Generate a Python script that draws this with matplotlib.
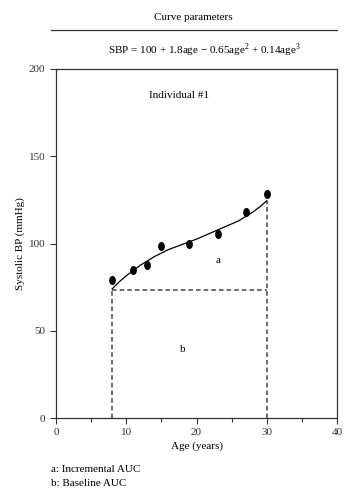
import matplotlib.pyplot as plt
from matplotlib.path import Path
from matplotlib.transforms import Affine2D
from matplotlib.ticker import MultipleLocator

plt.rcParams['font.family'] = ['Liberation Serif', 'DejaVu Serif']
plt.rcParams['mathtext.fontset'] = 'custom'
plt.rcParams['mathtext.rm'] = 'Liberation Serif'

# measured points (age, systolic BP)
age_pts = [8, 11, 13, 15, 19, 23, 27, 30]
sbp_pts = [79, 85, 87.5, 98.5, 100, 105.5, 118, 128.5]

# fitted curve
age_fit = [8, 9, 10, 11, 12, 13, 14, 15, 16, 18, 20, 22, 24, 26, 28, 29, 30]
sbp_fit = [74, 78, 81.5, 84.5, 87.5, 90, 92.5, 94.5, 96.5, 99.5, 102.5, 106, 109.5, 113, 118, 121, 124.5]

baseline = 73.5
x_ticks = [0, 10, 20, 30, 40]
y_ticks = [0, 50, 100, 150, 200]

fig = plt.figure(figsize=(3.56, 5.0), dpi=100)
ax = fig.add_axes([0.157, 0.164, 0.790, 0.698])

# dashed AUC boundaries
dash = dict(ls='--', color='#444444', lw=1.1, dashes=(3, 2))
ax.plot([age_fit[0], age_fit[-1]], [baseline, baseline], **dash)
ax.plot([age_fit[0], age_fit[0]], [0, baseline], **dash)
ax.plot([age_fit[-1], age_fit[-1]], [0, sbp_fit[-1]], **dash)

ax.plot(age_fit, sbp_fit, color='black', lw=0.9)

ellipse = Path.unit_circle().transformed(Affine2D().scale(0.7, 1.0))
ax.plot(age_pts, sbp_pts, ls='none', marker=ellipse, ms=5.5, color='black')

ax.text(17.5, 185, 'Individual #1', ha='center', va='center', fontsize=8)
ax.text(23, 90, 'a', ha='center', va='center', fontsize=8)
ax.text(18, 39.5, 'b', ha='center', va='center', fontsize=8)

ax.set_xlim(0, 40)
ax.set_ylim(0, 200)
ax.set_xticks(x_ticks)
ax.set_yticks(y_ticks)
ax.xaxis.set_minor_locator(MultipleLocator(5))
ax.tick_params(direction='out', length=4, width=0.8, labelsize=8, colors='#333333')
ax.tick_params(which='minor', direction='out', length=3, width=0.8, color='#333333')
ax.set_xlabel('Age (years)', fontsize=8, labelpad=3)
ax.set_ylabel('Systolic BP (mmHg)', fontsize=8, labelpad=3)
for s in ax.spines.values():
    s.set_color('#333333')
    s.set_linewidth(0.9)

# header above the plot
fig.text(0.542, 0.966, 'Curve parameters', ha='center', va='center', fontsize=8)
fig.add_artist(plt.Line2D([0.143, 0.947], [0.940, 0.940], color='#333333', lw=0.9))
fig.text(0.575, 0.899, r'SBP = 100 + 1.8age − 0.65age$^2$ + 0.14age$^3$',
         ha='center', va='center', fontsize=8)

# legend notes
fig.text(0.143, 0.062, 'a: Incremental AUC', ha='left', va='center', fontsize=8)
fig.text(0.143, 0.034, 'b: Baseline AUC', ha='left', va='center', fontsize=8)

plt.savefig('out.png', dpi=100)
